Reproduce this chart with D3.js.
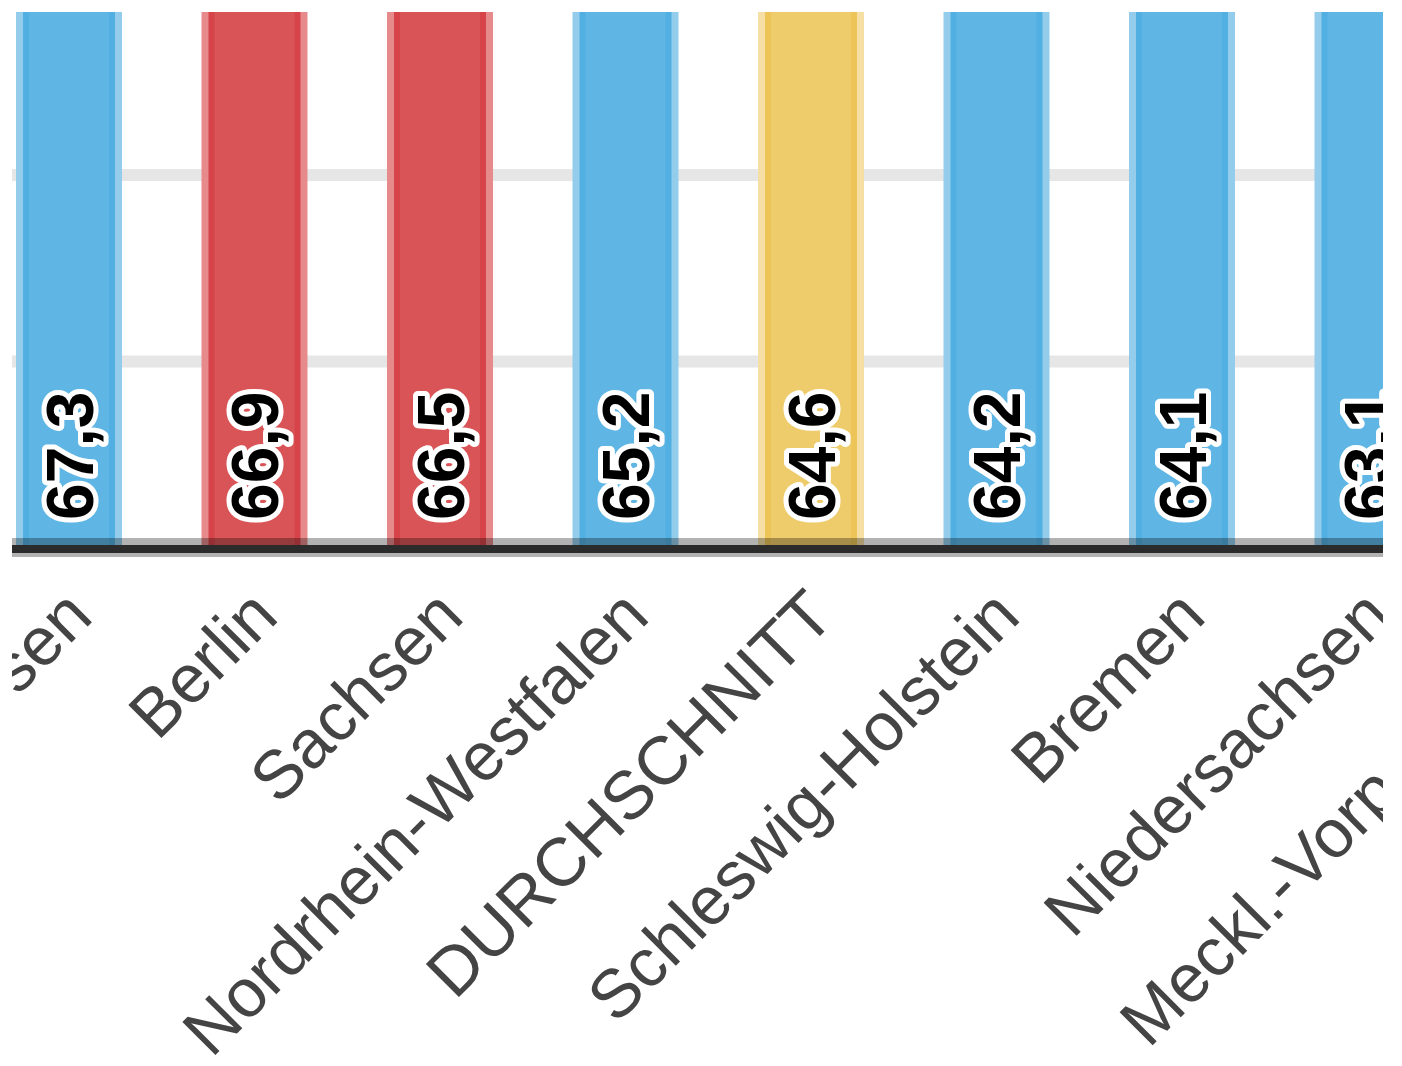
<!DOCTYPE html>
<html>
<head>
<meta charset="utf-8">
<script src="https://cdn.jsdelivr.net/npm/d3@7"></script>
<style>
  body { margin: 0; background: #fff; }
  svg { display: block; }
  text { font-family: "Liberation Sans", Arial, sans-serif; }
</style>
</head>
<body>
<div id="chart"></div>
<script>
// Werte je Bundesland (Ausschnitt)
var laender = ["Hessen", "Berlin", "Sachsen", "Nordrhein-Westfalen", "DURCHSCHNITT",
               "Schleswig-Holstein", "Bremen", "Niedersachsen", "Meckl.-Vorpommern"];
var werte = [67.3, 66.9, 66.5, 65.2, 64.6, 64.2, 64.1, 63.1, 62.8];
var gruppe = ["blau", "rot", "rot", "blau", "schnitt", "blau", "blau", "blau", "blau"];
var gridTicks = [10, 20, 30, 40, 50, 60];

var farben = {
  blau:    { main: "#5fb5e4", edge: "#52afe1", light: "#94cdec" },
  rot:     { main: "#d95456", edge: "#d6444a", light: "#e68a8c" },
  schnitt: { main: "#eecb6b", edge: "#ecc458", light: "#f5dfa4" }
};

var width = 1402, height = 1066;
var baseY = 548;

var svg = d3.select("#chart").append("svg")
  .attr("width", width)
  .attr("height", height);

svg.append("clipPath").attr("id", "clip")
  .append("rect")
  .attr("x", 12).attr("y", 12)
  .attr("width", 1371).attr("height", height - 12);

var g = svg.append("g").attr("clip-path", "url(#clip)");

var step = 185.5;
var x = d3.scaleBand()
  .domain(laender)
  .range([69 - step / 2, 69 - step / 2 + step * laender.length])
  .paddingInner(0.4286)
  .paddingOuter(0.2143);

var y = d3.scaleLinear()
  .domain([0, 70])
  .range([baseY, baseY - 7 * 186.5]);

// Gitterlinien
g.selectAll("line.grid")
  .data(gridTicks)
  .enter().append("line")
  .attr("class", "grid")
  .attr("x1", 12).attr("x2", 1383)
  .attr("y1", function(d) { return y(d); })
  .attr("y2", function(d) { return y(d); })
  .style("stroke", "#e6e6e6")
  .style("stroke-width", 12);

var data = laender.map(function(l, i) {
  return { name: l, wert: werte[i], farbe: farben[gruppe[i]] };
});

// Balken: heller Rand, dunklere Kante, Fläche
var bars = g.selectAll("g.bar").data(data).enter().append("g").attr("class", "bar");

bars.append("rect")
  .attr("x", function(d) { return x(d.name); })
  .attr("y", function(d) { return y(d.wert); })
  .attr("width", x.bandwidth())
  .attr("height", function(d) { return baseY - y(d.wert); })
  .style("fill", function(d) { return d.farbe.light; });

bars.append("rect")
  .attr("x", function(d) { return x(d.name) + 10; })
  .attr("y", function(d) { return y(d.wert) - 10; })
  .attr("width", x.bandwidth() - 20)
  .attr("height", function(d) { return baseY - y(d.wert) + 10; })
  .style("fill", function(d) { return d.farbe.main; })
  .style("stroke", function(d) { return d.farbe.edge; })
  .style("stroke-width", 6);

// Grundlinie
g.append("line")
  .attr("x1", 12).attr("x2", 1383)
  .attr("y1", y(0) - 0.5).attr("y2", y(0) - 0.5)
  .style("stroke", "#000")
  .style("stroke-opacity", 0.3)
  .style("stroke-width", 19);
g.append("line")
  .attr("x1", 12).attr("x2", 1383)
  .attr("y1", y(0) + 1).attr("y2", y(0) + 1)
  .style("stroke", "#2b2b2b")
  .style("stroke-width", 8);

// Wertbeschriftung
var fmt = function(v) { return d3.format(".1f")(v).replace(".", ","); };

g.selectAll("text.wert").data(data).enter().append("text")
  .attr("class", "wert")
  .attr("transform", function(d) {
    return "translate(" + (x(d.name) + x.bandwidth() / 2) + "," + 520 + ") rotate(-90)";
  })
  .attr("dy", "0.36em")
  .attr("text-anchor", "start")
  .style("font-size", "66px")
  .style("font-weight", "bold")
  .style("fill", "#000")
  .style("stroke", "#fff")
  .style("stroke-width", 10)
  .style("stroke-linejoin", "round")
  .style("paint-order", "stroke")
  .text(function(d) { return fmt(d.wert); });

// Achsenbeschriftung
g.selectAll("text.land").data(data).enter().append("text")
  .attr("class", "land")
  .attr("transform", function(d) {
    return "translate(" + (x(d.name) + x.bandwidth() / 2 + 26) + "," + 619 + ") rotate(-45)";
  })
  .attr("text-anchor", "end")
  .style("font-size", "68px")
  .style("fill", "#444")
  .text(function(d) { return d.name; });
</script>
</body>
</html>
